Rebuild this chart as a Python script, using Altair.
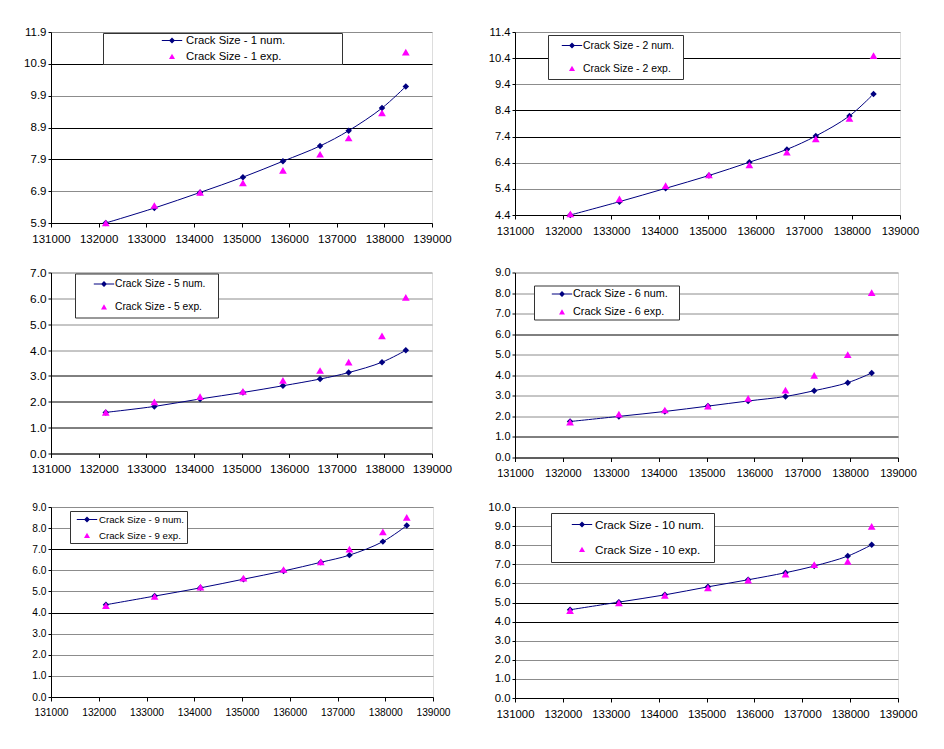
import altair as alt
import pandas as pd

# ---------------- data ----------------
cycles = [132150, 133170, 134130, 135030, 135870, 136650, 137250, 137950, 138450]

num_1 = [5.90, 6.37, 6.86, 7.34, 7.84, 8.32, 8.80, 9.51, 10.19]
exp_1 = [5.90, 6.45, 6.86, 7.16, 7.55, 8.06, 8.57, 9.36, 11.27]
num_2 = [4.40, 4.91, 5.42, 5.91, 6.42, 6.91, 7.42, 8.19, 9.03]
exp_2 = [4.44, 5.02, 5.52, 5.93, 6.32, 6.80, 7.31, 8.10, 10.50]
num_5 = [1.59, 1.82, 2.11, 2.36, 2.62, 2.88, 3.13, 3.53, 3.99]
exp_5 = [1.59, 2.00, 2.20, 2.40, 2.83, 3.21, 3.53, 4.55, 6.04]
num_6 = [1.75, 2.00, 2.24, 2.50, 2.75, 2.97, 3.25, 3.64, 4.11]
exp_6 = [1.72, 2.11, 2.31, 2.50, 2.88, 3.28, 4.00, 5.00, 8.02]
num_9 = [4.37, 4.78, 5.17, 5.58, 5.97, 6.38, 6.72, 7.36, 8.12]
exp_9 = [4.33, 4.76, 5.20, 5.63, 6.04, 6.40, 7.00, 7.82, 8.51]
num_10 = [4.62, 5.02, 5.40, 5.82, 6.19, 6.56, 6.91, 7.43, 8.02]
exp_10 = [4.58, 4.98, 5.37, 5.77, 6.17, 6.49, 6.98, 7.15, 8.99]

x_ticks = [131000, 132000, 133000, 134000, 135000, 136000, 137000, 138000, 139000]
y_ticks_1 = [5.9, 6.9, 7.9, 8.9, 9.9, 10.9, 11.9]
y_ticks_2 = [4.4, 5.4, 6.4, 7.4, 8.4, 9.4, 10.4, 11.4]
y_ticks_5 = [0.0, 1.0, 2.0, 3.0, 4.0, 5.0, 6.0, 7.0]
y_ticks_6 = [0.0, 1.0, 2.0, 3.0, 4.0, 5.0, 6.0, 7.0, 8.0, 9.0]
y_ticks_9 = [0.0, 1.0, 2.0, 3.0, 4.0, 5.0, 6.0, 7.0, 8.0, 9.0]
y_ticks_10 = [0.0, 1.0, 2.0, 3.0, 4.0, 5.0, 6.0, 7.0, 8.0, 9.0, 10.0]

# ---------------- styles ----------------
NAVY = "#000080"
MAGENTA = "#ff00ff"
GRID = "#8c8c8c"
SANS = "Liberation Sans, Arial"

# lx/ly: legend box position in the plot; Lb: box left -> symbol centre;
# Rb: symbol centre -> box right; gap: symbol centre -> label start
styles = {
    1: dict(w=381, h=191, afs=11.5, lfs=11.3, lx=52, ly=1, pad=1.5, rp=4, Lb=69, Rb=169, gap=14, dark=[7.9, 8.9, 10.9]),
    2: dict(w=385, h=183, afs=11.2, lfs=10.4, lx=33, ly=3, pad=4.5, rp=11, Lb=24, Rb=111, gap=11, dark=[7.4, 8.4, 10.4]),
    5: dict(w=381, h=181, afs=11.8, lfs=10.3, lx=24, ly=1, pad=4.5, rp=11, Lb=29, Rb=114, gap=11, dark=[1, 2, 3]),
    6: dict(w=383, h=185, afs=11.0, lfs=10.8, lx=19, ly=13, pad=2.5, rp=7, Lb=28, Rb=116, gap=11, dark=[1, 6]),
    9: dict(w=382, h=190, afs=10.2, lfs=9.7, lx=19, ly=4, pad=2.5, rp=5, Lb=17, Rb=97, gap=12, dark=[4, 7]),
    10: dict(w=383, h=191, afs=11.4, lfs=11.7, lx=36, ly=6, pad=5.5, rp=12, Lb=31, Rb=132, gap=13, dark=[4, 5]),
}


def panel(n, num, exp, yticks):
    st = styles[n]
    lab_num = f"Crack Size - {n} num."
    lab_exp = f"Crack Size - {n} exp."
    df = pd.DataFrame({
        "cycles": cycles + cycles,
        "crack": num + exp,
        "series": [lab_num] * len(cycles) + [lab_exp] * len(cycles),
    })
    test = " || ".join(f"abs(datum.value - {v}) < 0.001" for v in st["dark"])
    xenc = alt.X(
        "cycles:Q",
        scale=alt.Scale(domain=[x_ticks[0], x_ticks[-1]], nice=False, zero=False),
        axis=alt.Axis(values=x_ticks, format="d", grid=False, title=None, labelFlush=False,
                      labelOverlap=False, domainColor="black", tickColor="black", tickSize=4,
                      labelPadding=6, labelFont=SANS, labelFontSize=st["afs"],
                      labelColor="black"),
    )
    yenc = alt.Y(
        "crack:Q",
        scale=alt.Scale(domain=[yticks[0], yticks[-1]], nice=False, zero=False),
        axis=alt.Axis(values=yticks, format=".1f", title=None, grid=True,
                      gridColor={"condition": {"test": test, "value": "black"}, "value": GRID},
                      domainColor="black", tickColor="black", tickSize=3, labelPadding=2,
                      labelFont=SANS, labelFontSize=st["afs"], labelColor="black"),
    )
    base = alt.Chart(df).encode(x=xenc, y=yenc)
    line = base.mark_line(color=NAVY, strokeWidth=1, interpolate="catmull-rom").transform_filter(
        alt.datum.series == lab_num)
    dia = base.mark_point(shape="diamond", filled=True, color=NAVY, size=42, opacity=1).transform_filter(
        alt.datum.series == lab_num)
    tri = base.mark_point(shape="triangle-up", filled=True, color=MAGENTA, size=60, opacity=1).transform_filter(
        alt.datum.series == lab_exp)

    r = 6.0
    R = (st["Rb"] - st["pad"]) / r
    ext = f"M{R:.3f},0"
    num_sym = ext + "M-1.7,-0.08H1.7V0.08H-1.7ZM0,-0.5L0.5,0L0,0.5L-0.5,0Z"
    exp_sym = ext + "M0,-0.45L0.5,0.4L-0.5,0.4Z"
    leg = alt.Legend(
        title=None, orient="none", legendX=st["lx"], legendY=st["ly"],
        fillColor="white", strokeColor="#333333", padding=st["pad"], rowPadding=st["rp"],
        symbolSize=144, symbolOffset=st["Lb"] - st["pad"] - 6,
        labelOffset=st["gap"] - 6, labelFont=SANS,
        labelFontSize=st["lfs"], labelColor="black", symbolStrokeWidth=0,
    )
    dummy = base.mark_point(filled=True, opacity=1, size=144).encode(
        color=alt.Color("series:N", scale=alt.Scale(domain=[lab_num, lab_exp], range=[NAVY, MAGENTA]), legend=leg),
        shape=alt.Shape("series:N", scale=alt.Scale(domain=[lab_num, lab_exp], range=[num_sym, exp_sym]), legend=leg),
    ).transform_filter("false")
    return alt.layer(line, dia, tri, dummy).properties(width=st["w"], height=st["h"])


charts = [
    panel(1, num_1, exp_1, y_ticks_1),
    panel(2, num_2, exp_2, y_ticks_2),
    panel(5, num_5, exp_5, y_ticks_5),
    panel(6, num_6, exp_6, y_ticks_6),
    panel(9, num_9, exp_9, y_ticks_9),
    panel(10, num_10, exp_10, y_ticks_10),
]

chart = alt.concat(*charts, columns=2, spacing={"row": 49.5, "column": 82}, bounds="flush").resolve_scale(
    color="independent", shape="independent", x="independent", y="independent"
).resolve_legend(color="independent", shape="independent").configure_view(
    stroke=GRID, strokeWidth=1
).configure(background="white", padding={"left": 15, "top": 17, "right": 5, "bottom": 5})

chart.save("out.html", embed_options={"renderer": "svg", "actions": False})
